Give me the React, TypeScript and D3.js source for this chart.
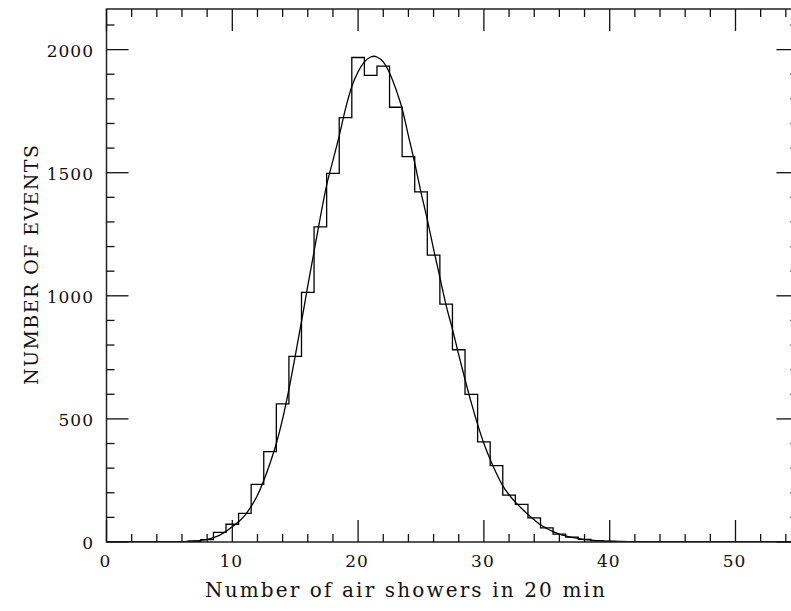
import React from 'react';
import * as d3 from 'd3';

// Histogram: bin centres (width 1) and counts
const binCenters = [
  0, 1, 2, 3, 4, 5, 6, 7, 8, 9, 10, 11, 12, 13, 14, 15, 16, 17, 18, 19, 20,
  21, 22, 23, 24, 25, 26, 27, 28, 29, 30, 31, 32, 33, 34, 35, 36, 37, 38, 39,
  40, 41, 42, 43, 44, 45, 46, 47, 48, 49, 50, 51, 52, 53, 54, 55,
];
const binCounts = [
  0, 0, 0, 0, 0, 0, 1, 3, 10, 39, 72, 116, 234, 367, 561, 754, 1014, 1280,
  1497, 1724, 1968, 1895, 1933, 1766, 1565, 1422, 1165, 966, 781, 600, 407,
  310, 190, 153, 98, 57, 32, 20, 11, 5, 2, 1, 0, 0, 0, 0, 0, 0, 0, 0, 0, 0,
  0, 0, 0, 0,
];

// Fitted curve
const fitX = [
  0, 4, 5, 6, 7, 7.5, 8, 8.5, 9, 9.5, 10, 10.5, 11, 11.5, 12, 12.5, 13, 13.5,
  14, 14.5, 15, 15.5, 16, 16.5, 17, 17.5, 18, 18.5, 19, 19.5, 20, 20.5, 21,
  21.25, 21.5, 22, 22.5, 23, 23.5, 24, 24.5, 25, 25.5, 26, 26.5, 27, 27.5, 28,
  28.5, 29, 29.5, 30, 30.5, 31, 31.5, 32, 32.5, 33, 33.5, 34, 34.5, 35, 35.5,
  36, 36.5, 37, 37.5, 38, 38.5, 39, 40, 41, 42, 44, 48, 55,
];
const fitY = [
  0, 0.1, 0.5, 1.5, 4, 7, 11, 18, 28, 43, 62, 82, 108, 145, 190, 250, 320,
  400, 500, 620, 755, 895, 1040, 1180, 1320, 1450, 1550, 1650, 1760, 1850,
  1910, 1950, 1970, 1973, 1970, 1950, 1905, 1840, 1760, 1650, 1540, 1420,
  1310, 1190, 1075, 960, 865, 760, 660, 565, 478, 400, 335, 278, 228, 192,
  162, 136, 112, 90, 70, 55, 42, 32, 25, 19, 15, 10, 8, 6, 3, 2, 1, 0.3, 0, 0,
];

const xMajorTicks = [0, 10, 20, 30, 40, 50];
const xMinorStep = 2;
const yMajorTicks = [0, 500, 1000, 1500, 2000];
const yMinorStep = 100;
const xTitle = 'Number of air showers in 20 min';
const yTitle = 'NUMBER OF EVENTS';

const W = 791;
const H = 611;
const LEFT = 106.5;
const RIGHT = 798.4;
const TOP = 9;
const BOTTOM = 542;
const MAJOR = 22;
const MINOR = 8;
const FONT = "'DejaVu Serif', serif";

export default function App() {
  const x = d3.scaleLinear().domain([0, 55]).range([LEFT, RIGHT]);
  const y = d3.scaleLinear().domain([0, 2165]).range([BOTTOM, TOP]);

  // step outline for histogram
  const edges: [number, number][] = [];
  binCenters.forEach((c, i) => {
    edges.push([c - 0.5, binCounts[i]]);
  });
  edges.push([binCenters[binCenters.length - 1] + 0.5, 0]);
  const stepLine = d3
    .line<[number, number]>()
    .x((d) => x(d[0]))
    .y((d) => y(d[1]))
    .curve(d3.curveStepAfter);

  const fitLine = d3
    .line<number>()
    .x((_, i) => x(fitX[i]))
    .y((d) => y(d))
    .curve(d3.curveMonotoneX);

  const xMinor = d3.range(0, 55.001, xMinorStep).filter((v) => v % 10 !== 0);
  const yMinor = d3.range(0, 2165, yMinorStep).filter((v) => v % 500 !== 0);

  const stroke = '#111';
  return (
    <svg
      width={W}
      height={H}
      style={{ position: 'absolute', left: 0, top: 0, background: '#fff' }}
    >
      <defs>
        <clipPath id="plot">
          <rect x={LEFT} y={TOP} width={RIGHT - LEFT} height={BOTTOM - TOP} />
        </clipPath>
      </defs>
      <rect x={0} y={0} width={W} height={H} fill="#fff" />
      <g clipPath="url(#plot)" fill="none" stroke="#000" strokeWidth={1.3}>
        <path d={stepLine(edges) || ''} />
        <path d={fitLine(fitY) || ''} />
      </g>
      {/* frame */}
      <rect
        x={LEFT}
        y={TOP}
        width={RIGHT - LEFT}
        height={BOTTOM - TOP}
        fill="none"
        stroke="#222"
        strokeWidth={1.5}
      />
      {/* x ticks */}
      <g stroke={stroke} strokeWidth={1.3}>
        {xMajorTicks.map((v) => (
          <g key={'xM' + v}>
            <line x1={x(v)} x2={x(v)} y1={BOTTOM} y2={BOTTOM - MAJOR} />
            <line x1={x(v)} x2={x(v)} y1={TOP} y2={TOP + MAJOR} />
          </g>
        ))}
        {xMinor.map((v) => (
          <g key={'xm' + v}>
            <line x1={x(v)} x2={x(v)} y1={BOTTOM} y2={BOTTOM - MINOR} />
            <line x1={x(v)} x2={x(v)} y1={TOP} y2={TOP + MINOR} />
          </g>
        ))}
        {yMajorTicks.map((v) => (
          <g key={'yM' + v}>
            <line x1={LEFT} x2={LEFT + MAJOR} y1={y(v)} y2={y(v)} />
            <line x1={RIGHT} x2={RIGHT - MAJOR} y1={y(v)} y2={y(v)} />
          </g>
        ))}
        {yMinor.map((v) => (
          <g key={'ym' + v}>
            <line x1={LEFT} x2={LEFT + MINOR} y1={y(v)} y2={y(v)} />
            <line x1={RIGHT} x2={RIGHT - MINOR} y1={y(v)} y2={y(v)} />
          </g>
        ))}
      </g>
      {/* tick labels */}
      <g fontFamily={FONT} fontSize={17} fill="#111">
        {xMajorTicks.map((v) => (
          <text key={'xl' + v} x={x(v) - 1} y={567} textAnchor="middle" letterSpacing={1}>
            {v}
          </text>
        ))}
        {yMajorTicks.map((v) => (
          <text key={'yl' + v} x={94} y={y(v) + 7} textAnchor="end" letterSpacing={1}>
            {v}
          </text>
        ))}
      </g>
      <text
        x={205}
        y={597}
        fontFamily={FONT}
        fontSize={20}
        fill="#111"
        textLength={400}
        lengthAdjust="spacing"
      >
        {xTitle}
      </text>
      <text
        transform="translate(38,265) rotate(-90)"
        textAnchor="middle"
        fontFamily={FONT}
        fontSize={19}
        fill="#111"
        textLength={240}
        lengthAdjust="spacing"
      >
        {yTitle}
      </text>
    </svg>
  );
}
